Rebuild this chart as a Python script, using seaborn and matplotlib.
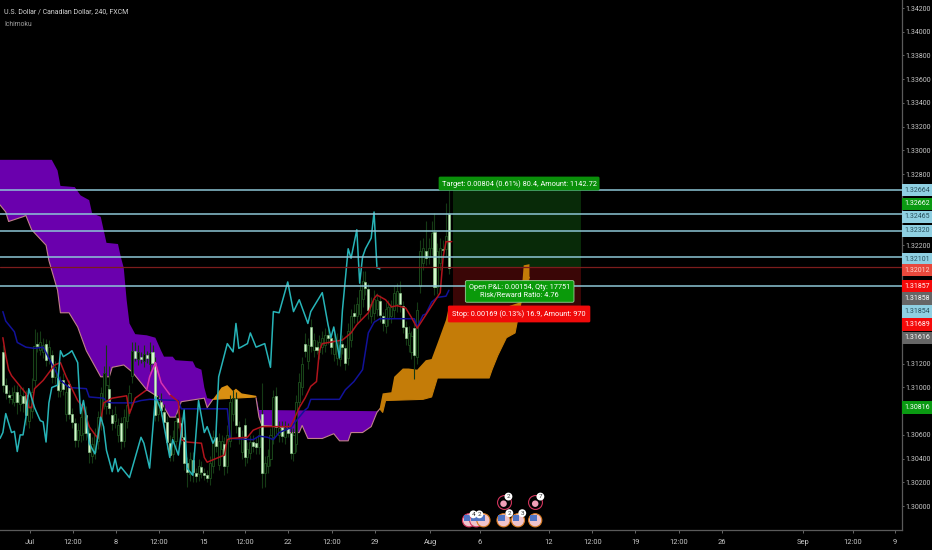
import matplotlib
matplotlib.use("Agg")
import matplotlib.pyplot as plt
from matplotlib.patches import Rectangle
import seaborn as sns

title = "U.S. Dollar / Canadian Dollar, 240, FXCM"
indicator = "Ichimoku"

# falling candles: bright bodies
dn_bar = [1,2,3,6,8,9,13,16,18,20,22,24,25,26,30,31,38,39,42,47,49,51,53,54,56,57,58,59,62,63,64,65,67,68,70,71,72,75,78,82,83,85,88,89,91,96,98,100,101,106,108,110,114,115,119,120,123,127,128,132,133,139,140,141,144,148,151,154,156]
dn_top = [1.3130,1.3102,1.3094,1.3096,1.3093,1.3094,1.3137,1.3137,1.3127,1.3108,1.3106,1.3103,1.3078,1.3070,1.3077,1.3062,1.3099,1.3077,1.3070,1.3131,1.3126,1.3127,1.3130,1.3121,1.3088,1.3079,1.3071,1.3053,1.3074,1.3070,1.3058,1.3036,1.3039,1.3028,1.3033,1.3028,1.3026,1.3058,1.3052,1.3090,1.3067,1.3068,1.3054,1.3053,1.3078,1.3093,1.3067,1.3066,1.3062,1.3137,1.3151,1.3134,1.3144,1.3142,1.3137,1.3133,1.3163,1.3189,1.3183,1.3173,1.3160,1.3180,1.3169,1.3151,1.3150,1.3215,1.3231,1.3217,1.3246]
dn_bot = [1.3102,1.3095,1.3092,1.3088,1.3087,1.3077,1.3135,1.3123,1.3109,1.3098,1.3099,1.3078,1.3071,1.3056,1.3062,1.3046,1.3083,1.3070,1.3055,1.3125,1.3124,1.3125,1.3121,1.3077,1.3081,1.3071,1.3054,1.3043,1.3071,1.3058,1.3036,1.3029,1.3029,1.3025,1.3029,1.3026,1.3024,1.3051,1.3034,1.3068,1.3058,1.3041,1.3051,1.3050,1.3028,1.3067,1.3059,1.3062,1.3045,1.3131,1.3135,1.3132,1.3142,1.3134,1.3134,1.3121,1.3160,1.3184,1.3165,1.3161,1.3154,1.3170,1.3151,1.3142,1.3127,1.3209,1.3185,1.3216,1.3201]
dn_high = [1.3136,1.3108,1.3098,1.3102,1.3100,1.3098,1.3147,1.3141,1.3132,1.3114,1.3112,1.3106,1.3083,1.3074,1.3084,1.3068,1.3118,1.3082,1.3075,1.3138,1.3130,1.3131,1.3136,1.3126,1.3095,1.3086,1.3076,1.3060,1.3080,1.3075,1.3062,1.3041,1.3046,1.3032,1.3038,1.3032,1.3030,1.3064,1.3058,1.3096,1.3072,1.3074,1.3060,1.3058,1.3104,1.3100,1.3072,1.3070,1.3066,1.3146,1.3158,1.3140,1.3150,1.3146,1.3144,1.3136,1.3170,1.3198,1.3188,1.3178,1.3164,1.3190,1.3173,1.3156,1.3158,1.3240,1.3247,1.3224,1.3267]
dn_low = [1.3096,1.3090,1.3087,1.3078,1.3079,1.3068,1.3130,1.3118,1.3104,1.3092,1.3094,1.3073,1.3066,1.3050,1.3056,1.3036,1.3078,1.3064,1.3048,1.3122,1.3121,1.3121,1.3117,1.3072,1.3076,1.3066,1.3048,1.3038,1.3066,1.3052,1.3030,1.3016,1.3020,1.3020,1.3024,1.3022,1.3020,1.3046,1.3026,1.3062,1.3052,1.3034,1.3046,1.3044,1.3015,1.3061,1.3054,1.3058,1.3040,1.3126,1.3130,1.3128,1.3137,1.3128,1.3128,1.3115,1.3154,1.3178,1.3158,1.3155,1.3148,1.3164,1.3146,1.3136,1.3107,1.3203,1.3178,1.3210,1.3196]

# rising candles: dark bodies
up_bar = [4,5,7,10,11,12,14,15,17,19,21,23,27,28,29,32,33,34,35,36,37,40,41,43,44,45,46,48,50,52,55,60,61,66,69,73,74,76,77,79,80,81,84,86,87,90,92,93,94,95,97,99,102,103,104,105,107,109,111,112,113,116,117,118,121,122,124,125,126,129,130,131,134,135,136,137,138,142,143,145,146,147,149,150,152,153,155]
up_bot = [1.3090,1.3088,1.3086,1.3072,1.3080,1.3106,1.3132,1.3130,1.3125,1.3109,1.3097,1.3078,1.3056,1.3060,1.3062,1.3042,1.3046,1.3055,1.3070,1.3088,1.3084,1.3072,1.3060,1.3055,1.3072,1.3082,1.3110,1.3124,1.3122,1.3120,1.3078,1.3044,1.3055,1.3027,1.3027,1.3024,1.3034,1.3035,1.3048,1.3034,1.3055,1.3078,1.3046,1.3041,1.3045,1.3050,1.3028,1.3034,1.3040,1.3058,1.3060,1.3058,1.3045,1.3052,1.3088,1.3100,1.3122,1.3132,1.3130,1.3134,1.3136,1.3128,1.3125,1.3124,1.3125,1.3140,1.3160,1.3162,1.3175,1.3160,1.3163,1.3166,1.3152,1.3158,1.3160,1.3165,1.3170,1.3136,1.3130,1.3126,1.3186,1.3205,1.3210,1.3218,1.3185,1.3205,1.3217]
up_top = [1.3094,1.3096,1.3094,1.3084,1.3096,1.3135,1.3138,1.3136,1.3134,1.3117,1.3104,1.3096,1.3064,1.3075,1.3084,1.3052,1.3060,1.3075,1.3095,1.3112,1.3102,1.3078,1.3068,1.3075,1.3085,1.3095,1.3131,1.3130,1.3128,1.3129,1.3088,1.3058,1.3072,1.3040,1.3034,1.3036,1.3058,1.3055,1.3055,1.3060,1.3088,1.3091,1.3058,1.3048,1.3054,1.3060,1.3036,1.3042,1.3060,1.3092,1.3066,1.3066,1.3060,1.3088,1.3105,1.3120,1.3136,1.3140,1.3138,1.3142,1.3144,1.3140,1.3140,1.3136,1.3148,1.3160,1.3170,1.3182,1.3190,1.3170,1.3175,1.3174,1.3166,1.3168,1.3168,1.3180,1.3181,1.3146,1.3143,1.3165,1.3215,1.3218,1.3218,1.3230,1.3215,1.3218,1.3228]
up_high = [1.3100,1.3102,1.3100,1.3090,1.3108,1.3149,1.3148,1.3142,1.3140,1.3122,1.3110,1.3102,1.3070,1.3080,1.3090,1.3058,1.3066,1.3080,1.3100,1.3118,1.3136,1.3084,1.3074,1.3082,1.3092,1.3102,1.3138,1.3136,1.3136,1.3138,1.3094,1.3064,1.3078,1.3046,1.3040,1.3042,1.3064,1.3062,1.3060,1.3068,1.3094,1.3098,1.3064,1.3054,1.3060,1.3066,1.3042,1.3048,1.3066,1.3098,1.3072,1.3072,1.3066,1.3094,1.3112,1.3126,1.3142,1.3146,1.3144,1.3148,1.3150,1.3146,1.3146,1.3142,1.3154,1.3166,1.3176,1.3190,1.3198,1.3176,1.3182,1.3180,1.3172,1.3174,1.3174,1.3186,1.3188,1.3152,1.3148,1.3172,1.3224,1.3226,1.3226,1.3240,1.3222,1.3226,1.3256]
up_low = [1.3086,1.3084,1.3080,1.3066,1.3074,1.3100,1.3127,1.3125,1.3120,1.3103,1.3092,1.3072,1.3050,1.3054,1.3056,1.3036,1.3040,1.3048,1.3064,1.3082,1.3078,1.3066,1.3054,1.3050,1.3066,1.3076,1.3104,1.3119,1.3117,1.3114,1.3072,1.3038,1.3050,1.3021,1.3021,1.3018,1.3028,1.3030,1.3042,1.3028,1.3050,1.3072,1.3040,1.3036,1.3040,1.3044,1.3016,1.3028,1.3034,1.3052,1.3054,1.3052,1.3038,1.3046,1.3082,1.3094,1.3116,1.3126,1.3124,1.3128,1.3130,1.3122,1.3119,1.3118,1.3119,1.3134,1.3154,1.3156,1.3168,1.3154,1.3157,1.3160,1.3146,1.3152,1.3154,1.3159,1.3164,1.3130,1.3124,1.3120,1.3180,1.3199,1.3204,1.3212,1.3179,1.3199,1.3211]

# lagging span
lag_bar = [0,1,2,4,5,6,7,8,9,10,12,14,15,16,17,18,20,21,22,24,25,27,28,29,30,31,33,34,35,36,37,39,40,41,42,45,49,50,52,54,56,59,60,62,64,65,67,69,71,72,74,75,76,79,81,82,83,86,87,89,92,94,95,97,100,102,104,107,108,112,114,115,116,118,119,121,122,124,125,126,127,129,130,131,132]
lag_val = [1.3057,1.3062,1.3078,1.3062,1.3063,1.3046,1.3060,1.3060,1.3075,1.3099,1.3083,1.3072,1.3071,1.3054,1.3087,1.3100,1.3102,1.3131,1.3126,1.3129,1.3131,1.3121,1.3078,1.3089,1.3075,1.3053,1.3044,1.3058,1.3075,1.3067,1.3047,1.3029,1.3040,1.3029,1.3033,1.3024,1.3058,1.3053,1.3032,1.3092,1.3081,1.3041,1.3056,1.3043,1.3081,1.3032,1.3026,1.3089,1.3062,1.3067,1.3053,1.3058,1.3109,1.3137,1.3130,1.3154,1.3133,1.3137,1.3146,1.3134,1.3137,1.3117,1.3164,1.3163,1.3189,1.3164,1.3174,1.3154,1.3164,1.3180,1.3153,1.3142,1.3151,1.3125,1.3165,1.3217,1.3209,1.3233,1.3188,1.3210,1.3217,1.3226,1.3248,1.3201,1.3200]

# base line
base_bar = [1,2,5,6,9,12,15,21,24,30,31,36,37,39,46,49,52,62,63,79,80,88,90,93,95,97,101,106,107,108,118,120,123,126,128,130,132,144,145,147,148,150,152,155,156]
base_val = [1.3164,1.3156,1.3147,1.3138,1.3134,1.3133,1.3134,1.3106,1.3100,1.3099,1.3092,1.3091,1.3088,1.3087,1.3087,1.3089,1.3090,1.3089,1.3082,1.3082,1.3057,1.3056,1.3059,1.3058,1.3056,1.3062,1.3066,1.3081,1.3083,1.3090,1.3090,1.3098,1.3105,1.3115,1.3146,1.3155,1.3158,1.3158,1.3151,1.3161,1.3162,1.3172,1.3176,1.3177,1.3182]

# conversion line
conv_bar = [1,2,3,4,6,9,10,11,12,15,19,21,23,27,29,31,34,36,39,44,45,47,51,52,54,56,59,62,63,65,70,71,72,76,78,79,80,86,88,90,91,95,101,104,106,108,110,111,112,119,122,124,128,130,131,134,136,138,141,143,145,153,154,155,157]
conv_val = [1.3142,1.3127,1.3115,1.3110,1.3104,1.3095,1.3083,1.3083,1.3099,1.3106,1.3119,1.3121,1.3109,1.3089,1.3083,1.3067,1.3057,1.3087,1.3091,1.3093,1.3078,1.3091,1.3098,1.3109,1.3121,1.3104,1.3094,1.3088,1.3056,1.3054,1.3053,1.3041,1.3037,1.3041,1.3043,1.3056,1.3057,1.3058,1.3064,1.3066,1.3067,1.3067,1.3067,1.3083,1.3091,1.3101,1.3105,1.3131,1.3137,1.3140,1.3146,1.3153,1.3163,1.3175,1.3178,1.3174,1.3168,1.3169,1.3167,1.3159,1.3150,1.3180,1.3210,1.3223,1.3223]
conv_cloud_bar = [51,52,54,56,59]
conv_cloud_val = [1.3098,1.3109,1.3121,1.3104,1.3094]

# cloud segments
p1_up_bar = [0,18,20,21,26,28,31,32,35,36,37,41,42,43,44,45,47,51,54,56,57,60,61,67,68,70,71,72,74]
p1_up_val = [1.3292,1.3292,1.3283,1.3270,1.3269,1.3262,1.3258,1.3247,1.3244,1.3233,1.3222,1.3221,1.3210,1.3201,1.3174,1.3154,1.3145,1.3144,1.3142,1.3131,1.3126,1.3126,1.3123,1.3122,1.3117,1.3115,1.3100,1.3091,1.3090]
p1_lo_bar = [0,2,3,8,9,11,16,17,20,21,24,27,30,35,38,39,43,46,51,55,59,61,63,71,72,74]
p1_lo_val = [1.3254,1.3248,1.3240,1.3244,1.3245,1.3233,1.3220,1.3207,1.3182,1.3163,1.3163,1.3151,1.3131,1.3109,1.3109,1.3117,1.3119,1.3113,1.3098,1.3092,1.3075,1.3075,1.3088,1.3091,1.3083,1.3090]
o1_up_bar = [74,77,79,81,82,84,89]
o1_up_val = [1.3090,1.3100,1.3102,1.3097,1.3099,1.3095,1.3093]
o1_lo_bar = [74,89]
o1_lo_val = [1.3090,1.3092]
p2_up_bar = [89,90,131,132]
p2_up_val = [1.3093,1.3081,1.3080,1.3082]
p2_lo_bar = [89,90,91,97,100,104,105,107,112,113,116,118,121,122,126,129,131,132]
p2_lo_val = [1.3091,1.3075,1.3068,1.3067,1.3062,1.3062,1.3068,1.3057,1.3057,1.3058,1.3061,1.3055,1.3055,1.3062,1.3062,1.3067,1.3079,1.3082]
o2_up_bar = [132,133,136,137,140,142,145,148,150,152,155,156,176,181,182,184]
o2_up_val = [1.3083,1.3095,1.3096,1.3109,1.3116,1.3116,1.3115,1.3123,1.3124,1.3137,1.3157,1.3168,1.3168,1.3172,1.3203,1.3204]
o2_lo_bar = [132,133,134,147,150,152,170,171,173,176,179,181,184]
o2_lo_val = [1.3082,1.3079,1.3089,1.3090,1.3092,1.3108,1.3108,1.3115,1.3127,1.3142,1.3146,1.3171,1.3193]

# horizontal levels
level_vals = [1.32664, 1.32465, 1.32320, 1.32101, 1.31857]
entry_val = 1.32012
pos_start, pos_end = 157.5, 202
stop_edge = 1.3168

# price axis
plain_ticks = [1.342,1.340,1.338,1.336,1.334,1.332,1.330,1.328,1.322,1.312,1.310,1.306,1.304,1.302,1.300]
badge_text = ["1.32664","1.32662","1.32465","1.32320","1.32101","1.32012","1.31857","1.31858","1.31854","1.31689","1.31616","1.30816"]
badge_at = [1.32664,1.3255,1.3244,1.3232,1.3208,1.3199,1.31855,1.3175,1.3164,1.3153,1.3142,1.3083]
badge_bg = ["#8fd0e2","#0a9a12","#8fd0e2","#8fd0e2","#8fd0e2","#e8493c","#f50a0a","#666666","#8fd0e2","#f50a0a","#666666","#0a9a12"]
badge_fg = ["#28505c","#ffffff","#28505c","#28505c","#28505c","#ffd8d0","#ffffff","#ffffff","#28505c","#ffffff","#ffffff","#ffffff"]

# time axis
tick_bars = [10.4,25.4,40.3,55.3,70.6,85.2,100.1,115.4,130.3,149.5,166.8,190.8,205.8,220.7,236,251,279,296.5,311]
tick_text = ["Jul","12:00","8","12:00","15","12:00","22","12:00","29","Aug","6","12","12:00","19","12:00","26","Sep","12:00","9"]

# events
ev_low_bar = [163,165.5,168,175,180,186]
ev_low_ring = ["#d0345c","#d0345c","#d87a20","#d87a20","#d87a20","#d87a20"]
ev_high_bar = [175,186]
ev_low_price, ev_high_price = 1.2988, 1.3003
note_bar = [164.5,166.6,177,181.5,176.7,187.8]
note_price = [1.2993,1.2993,1.2994,1.2994,1.3008,1.3008]
note_text = ["4","2","2","3","2","7"]

sns.set_theme(style="dark", rc={"axes.facecolor": "#000000", "figure.facecolor": "#000000",
                                "axes.edgecolor": "#5a5a5a", "axes.grid": False})
plt.rcParams["font.family"] = ["Roboto", "DejaVu Sans"]

fig = plt.figure(figsize=(9.32, 5.5), dpi=100)
ax = fig.add_axes([0, 20 / 550, 901.5 / 932, 530 / 550])
ax.set_xlim(0, 313.3)
ax.set_ylim(1.29798, 1.34268)

# position tool rectangles
ax.add_patch(Rectangle((pos_start, entry_val), pos_end - pos_start, level_vals[0] - entry_val,
                       fc="#082a08", ec="none", zorder=1))
ax.add_patch(Rectangle((pos_start, stop_edge), pos_end - pos_start, entry_val - stop_edge,
                       fc="#3a0606", ec="none", zorder=1))

# cloud
purple, orange = "#6a00ad", "#c47c08"
for ub, uv, lb, lv, col in [(p1_up_bar, p1_up_val, p1_lo_bar, p1_lo_val, purple),
                            (o1_up_bar, o1_up_val, o1_lo_bar, o1_lo_val, "#d98f12"),
                            (p2_up_bar, p2_up_val, p2_lo_bar, p2_lo_val, purple),
                            (o2_up_bar, o2_up_val, o2_lo_bar, o2_lo_val, orange)]:
    ax.fill(ub + lb[::-1], uv + lv[::-1], color=col, lw=0, zorder=2)
    ax.plot(lb, lv, color="#c0808a" if col == purple else col, lw=0.8, zorder=2.1)

# candles
ax.vlines(up_bar, up_low, up_high, color="#153a15", lw=0.8, zorder=3)
ax.bar(up_bar, [t - b for t, b in zip(up_top, up_bot)], bottom=up_bot, width=0.72,
       facecolor="#020802", edgecolor="#1a471a", linewidth=0.7, zorder=3.1)
ax.vlines(dn_bar, dn_low, dn_high, color="#153a15", lw=0.8, zorder=3)
ax.bar(dn_bar, [t - b for t, b in zip(dn_top, dn_bot)], bottom=dn_bot, width=0.72,
       facecolor="#d4f7cc", edgecolor="#8fcf8f", linewidth=0.4, zorder=3.2)

# indicator lines
sns.lineplot(x=base_bar, y=base_val, color="#12129a", lw=1.1, ax=ax, estimator=None, sort=False, zorder=4)
sns.lineplot(x=conv_bar, y=conv_val, color="#b0141c", lw=1.1, ax=ax, estimator=None, sort=False, zorder=4.1)
sns.lineplot(x=conv_cloud_bar, y=conv_cloud_val, color="#d030c8", lw=1.1, ax=ax, estimator=None, sort=False, zorder=4.2)
sns.lineplot(x=lag_bar, y=lag_val, color="#27b4b8", lw=1.1, ax=ax, estimator=None, sort=False, zorder=4.3)

# levels
for v in level_vals:
    ax.axhline(v, color="#8cc6d6", lw=1.1, zorder=5)
ax.axhline(entry_val, color="#7c1c1c", lw=0.9, zorder=5)

# axes dressing
ax.yaxis.tick_right()
ax.set_yticks(plain_ticks)
ax.set_yticklabels([f"{v:.5f}" for v in plain_ticks])
ax.set_xticks(tick_bars)
ax.set_xticklabels(tick_text)
ax.tick_params(axis="y", colors="#c8c8c8", labelsize=5.0, length=1.5, width=0.6, pad=1.5, right=True, color="#777777")
ax.tick_params(axis="x", colors="#c8c8c8", labelsize=5.4, length=2.5, width=0.6, pad=4, bottom=True, color="#777777")
for s in ("left", "top"):
    ax.spines[s].set_visible(False)
for s in ("right", "bottom"):
    ax.spines[s].set_color("#5a5a5a")
    ax.spines[s].set_linewidth(0.9)

# price badges
ytrans = ax.get_yaxis_transform()
for txt, at, bg, fg in zip(badge_text, badge_at, badge_bg, badge_fg):
    ax.add_patch(Rectangle((1.0, at - 0.00052), 0.0338, 0.00104, transform=ytrans, fc=bg, ec="none",
                           clip_on=False, zorder=6))
    ax.text(1.0175, at, txt, transform=ytrans, ha="center", va="center", color=fg, fontsize=5.0,
            clip_on=False, zorder=7)

# position labels
ax.text(180.4, 1.3272, "Target: 0.00804 (0.61%) 80.4, Amount: 1142.72", color="white", fontsize=5.3,
        ha="center", va="center", zorder=8,
        bbox=dict(boxstyle="round,pad=0.4,rounding_size=0.2", fc="#0a8f0a", ec="none"))
ax.text(180.6, 1.3181, "Open P&L: 0.00154, Qty: 17751\nRisk/Reward Ratio: 4.76", color="white", fontsize=5.3,
        ha="center", va="center", linespacing=1.05, zorder=8,
        bbox=dict(boxstyle="round,pad=0.5,rounding_size=0.2", fc="#0a9a0a", ec="#9ad09a", lw=0.6))
ax.text(180.4, 1.3162, "Stop: 0.00169 (0.13%) 16.9, Amount: 970", color="white", fontsize=5.3,
        ha="center", va="center", zorder=8,
        bbox=dict(boxstyle="round,pad=0.6,rounding_size=0.2", fc="#f00a0a", ec="none"))

# event markers
ax.scatter(ev_low_bar, [ev_low_price] * len(ev_low_bar), s=90, facecolor="#efc4cc",
           edgecolor=ev_low_ring, linewidth=0.8, zorder=6)
ax.scatter([b - 0.7 for b in ev_low_bar], [ev_low_price + 0.0002] * len(ev_low_bar), s=24, marker="s",
           facecolor="#4f74c4", edgecolor="none", zorder=6.1)
ax.scatter(ev_high_bar, [ev_high_price] * len(ev_high_bar), s=100, facecolor="#000000",
           edgecolor="#d0345c", linewidth=0.8, zorder=6)
ax.scatter(ev_high_bar, [ev_high_price - 0.0001] * len(ev_high_bar), s=22, facecolor="#f0a0b8",
           edgecolor="none", zorder=6.1)
ax.scatter(note_bar, note_price, s=32, facecolor="white", edgecolor="none", zorder=6.2)
for b, p, t in zip(note_bar, note_price, note_text):
    ax.text(b, p, t, fontsize=4.6, color="#333333", ha="center", va="center", zorder=6.3)

ax.set_xlabel("")
ax.set_ylabel("")
fig.text(4 / 932, 1 - 12 / 550, title, color="#d2d2d2", fontsize=5.0, ha="left", va="center")
fig.text(4 / 932, 1 - 24 / 550, indicator, color="#a0a0a0", fontsize=4.9, ha="left", va="center")

fig.savefig("out.png", dpi=100, facecolor="#000000")
